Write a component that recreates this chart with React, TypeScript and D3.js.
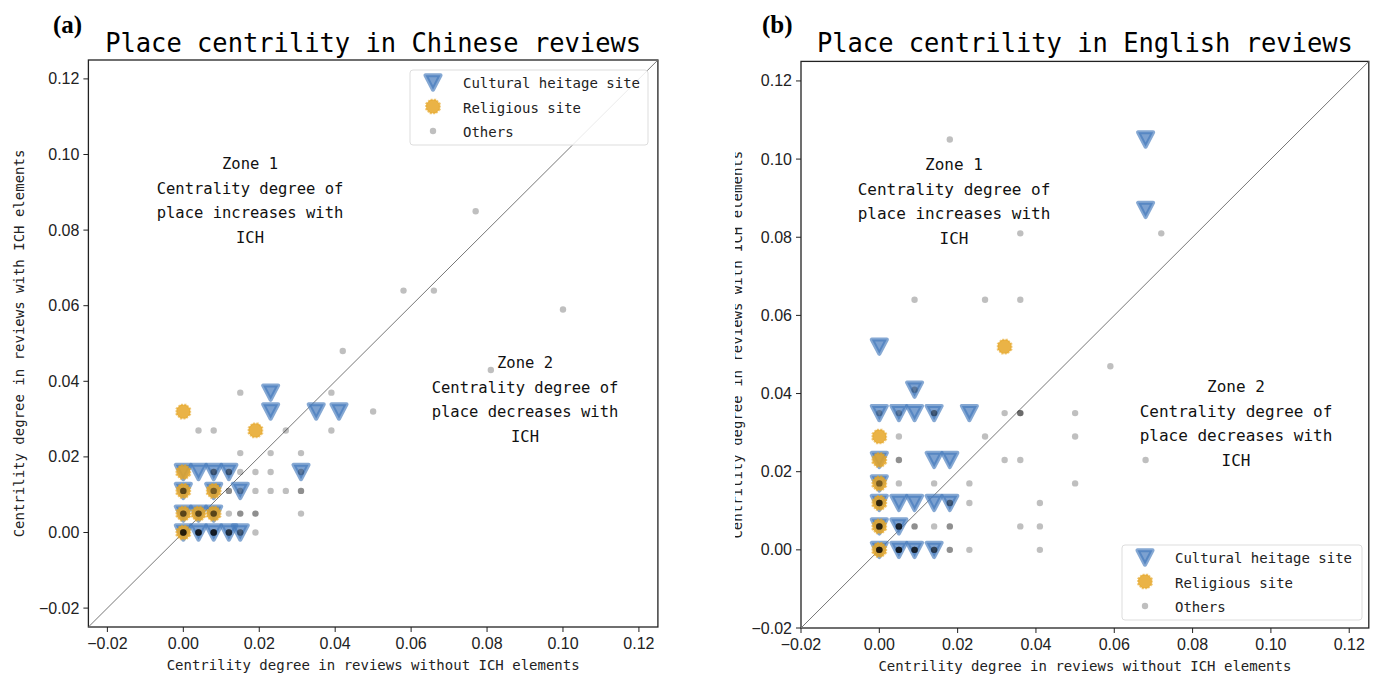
import * as d3 from 'd3'
import React from 'react'

// tick values shared by both panels
const tickValues = [-0.02, 0, 0.02, 0.04, 0.06, 0.08, 0.1, 0.12]
const legendLabels = ['Cultural heitage site', 'Religious site', 'Others']

// panel (a): Chinese reviews  [x, y]
const cultureA = [
  [0.023, 0.037], [0.023, 0.032], [0.035, 0.032], [0.041, 0.032], [0.031, 0.016],
  [0, 0.016], [0.004, 0.016], [0.008, 0.016], [0.012, 0.016],
  [0, 0.011], [0.008, 0.011], [0.015, 0.011],
  [0, 0.005], [0.004, 0.005], [0.008, 0.005],
  [0, 0], [0.004, 0], [0.008, 0], [0.012, 0], [0.015, 0],
]
const religiousA = [
  [0, 0.032], [0.019, 0.027], [0, 0.016], [0, 0.011], [0.008, 0.011],
  [0, 0.005], [0.004, 0.005], [0.008, 0.005], [0, 0],
]
// [x, y, number of places on the same spot]
const othersA = [
  [0.077, 0.085, 1], [0.058, 0.064, 1], [0.066, 0.064, 1], [0.1, 0.059, 1], [0.042, 0.048, 1],
  [0.081, 0.043, 1], [0.015, 0.037, 1], [0.039, 0.037, 1], [0.05, 0.032, 1],
  [0.004, 0.027, 1], [0.008, 0.027, 1], [0.027, 0.027, 1], [0.039, 0.027, 1],
  [0.015, 0.021, 1], [0.023, 0.021, 1], [0.031, 0.021, 1],
  [0.015, 0.016, 1], [0.019, 0.016, 1], [0.023, 0.016, 1], [0.008, 0.016, 2], [0.012, 0.016, 2], [0.031, 0.016, 1],
  [0, 0.011, 3], [0.008, 0.011, 2], [0.012, 0.011, 2], [0.015, 0.011, 1], [0.019, 0.011, 1],
  [0.023, 0.011, 1], [0.027, 0.011, 1], [0.031, 0.011, 2],
  [0, 0.005, 3], [0.004, 0.005, 3], [0.008, 0.005, 3], [0.012, 0.005, 1], [0.015, 0.005, 2],
  [0.019, 0.005, 2], [0.031, 0.005, 1],
  [0, 0, 6], [0.004, 0, 6], [0.008, 0, 6], [0.012, 0, 4], [0.015, 0, 2], [0.019, 0, 1],
]

// panel (b): English reviews
const cultureB = [
  [0.068, 0.105], [0.068, 0.087], [0, 0.052], [0.009, 0.041],
  [0, 0.035], [0.005, 0.035], [0.009, 0.035], [0.014, 0.035], [0.023, 0.035],
  [0, 0.023], [0.014, 0.023], [0.018, 0.023], [0, 0.017],
  [0, 0.012], [0.005, 0.012], [0.009, 0.012], [0.014, 0.012], [0.018, 0.012],
  [0, 0.006], [0.005, 0.006],
  [0, 0], [0.005, 0], [0.009, 0], [0.014, 0],
]
const religiousB = [
  [0.032, 0.052], [0, 0.029], [0, 0.023], [0, 0.017], [0, 0.012], [0, 0.006], [0, 0],
]
const othersB = [
  [0.018, 0.105, 1], [0.036, 0.081, 1], [0.072, 0.081, 1], [0.009, 0.064, 1], [0.027, 0.064, 1],
  [0.036, 0.064, 1], [0.059, 0.047, 1], [0.009, 0.041, 1],
  [0, 0.035, 1], [0.005, 0.035, 1], [0.014, 0.035, 2], [0.032, 0.035, 1], [0.036, 0.035, 3], [0.05, 0.035, 1],
  [0.005, 0.029, 1], [0.027, 0.029, 1], [0.05, 0.029, 1],
  [0.005, 0.023, 2], [0.032, 0.023, 1], [0.036, 0.023, 1], [0.068, 0.023, 1],
  [0, 0.017, 2], [0.005, 0.017, 1], [0.014, 0.017, 1], [0.023, 0.017, 1], [0.05, 0.017, 1],
  [0, 0.012, 5], [0.018, 0.012, 2], [0.023, 0.012, 1], [0.041, 0.012, 1],
  [0, 0.006, 5], [0.005, 0.006, 5], [0.009, 0.006, 2], [0.014, 0.006, 1], [0.018, 0.006, 2],
  [0.036, 0.006, 1], [0.041, 0.006, 1],
  [0, 0, 6], [0.005, 0, 6], [0.009, 0, 5], [0.014, 0, 3], [0.018, 0, 2], [0.023, 0, 1], [0.041, 0, 1],
]

const BLUE = '#4479bc'
const GOLD = '#e6a626'
const MONO = '"DejaVu Sans Mono", monospace'
const SANS = '"Liberation Sans", Arial, sans-serif'

const triPath = (h) => `M${-h * 1.05},${-h}L${h * 1.05},${-h}L0,${h}Z`
const octPath = (r) =>
  d3.range(8).map((i) => {
    const a = ((i * 45 + 22.5) * Math.PI) / 180
    return `${i ? 'L' : 'M'}${r * Math.cos(a)},${r * Math.sin(a)}`
  }).join('') + 'Z'

const Tri = ({ x, y }) => (
  <path transform={`translate(${x},${y})`} d={triPath(7.2)} fill={BLUE} fillOpacity={0.7}
    stroke={BLUE} strokeOpacity={0.65} strokeWidth={4} strokeLinejoin="round" />
)
const Oct = ({ x, y }) => (
  <path transform={`translate(${x},${y})`} d={octPath(7.4)} fill={GOLD} fillOpacity={0.85}
    stroke={GOLD} strokeOpacity={0.6} strokeWidth={2} strokeDasharray="2 1.2" />
)
const Dot = ({ x, y }) => <circle cx={x} cy={y} r={3.2} fill="#000" fillOpacity={0.25} />

const fmt = (v) => d3.format('.2f')(v).replace('-', '\u2212')

const Panel = (props) => {
  const { id, left, right, top, bottom, domain, title, culture, religious, others, zone1, zone2, legend, clipY } = props
  const x = d3.scaleLinear().domain(domain).range([left, right])
  const y = d3.scaleLinear().domain(domain).range([bottom, top])
  const cx = (left + right) / 2
  const cy = (top + bottom) / 2
  const clipId = 'clip' + id.replace(/\W/g, '')
  const zoneText = (z, lines) =>
    lines.map((t, i) => (
      <text key={i} x={z.x} y={z.y + i * 24.5} textAnchor="middle" fontFamily={MONO} fontSize={z.size} fill="#111">{t}</text>
    ))
  return (
    <g>
      <text x={props.tagX} y={33} fontFamily='"Liberation Serif", serif' fontWeight="bold" fontSize={25}>{id}</text>
      <text x={cx} y={52} textAnchor="middle" fontFamily={MONO} fontSize={27} textLength={536} lengthAdjust="spacingAndGlyphs">{title}</text>
      <rect x={left} y={top} width={right - left} height={bottom - top} fill="#fff" stroke="#222" strokeWidth={1.3} />
      <line x1={left} y1={bottom} x2={right} y2={top} stroke="#777" strokeWidth={1} />
      {tickValues.map((t) => (
        <g key={'x' + t}>
          <line x1={x(t)} x2={x(t)} y1={bottom} y2={bottom + 5} stroke="#222" />
          <text x={x(t)} y={bottom + 22} textAnchor="middle" fontFamily={SANS} fontSize={16} fill="#222">{fmt(t)}</text>
        </g>
      ))}
      {tickValues.map((t) => (
        <g key={'y' + t}>
          <line x1={left - 5} x2={left} y1={y(t)} y2={y(t)} stroke="#222" />
          <text x={left - 9} y={y(t) + 5.5} textAnchor="end" fontFamily={SANS} fontSize={16} fill="#222">{fmt(t)}</text>
        </g>
      ))}
      <text x={cx} y={bottom + 43} textAnchor="middle" fontFamily={MONO} fontSize={14} fill="#222">
        Centrility degree in reviews without ICH elements
      </text>
      {clipY && (
        <clipPath id={clipId}>
          <rect x={clipY.from} y={0} width={100} height={679} />
        </clipPath>
      )}
      <g clipPath={clipY ? `url(#${clipId})` : undefined}>
        <text transform={`translate(${props.ylabelX},${cy}) rotate(-90)`} textAnchor="middle" fontFamily={MONO}
          fontSize={14} fill="#222">
          Centrility degree in reviews with ICH elements
        </text>
      </g>
      {zoneText(zone1, ['Zone 1', 'Centrality degree of', 'place increases with', 'ICH'])}
      {zoneText(zone2, ['Zone 2', 'Centrality degree of', 'place decreases with', 'ICH'])}
      {culture.map((d, i) => <Tri key={'c' + i} x={x(d[0])} y={y(d[1])} />)}
      {religious.map((d, i) => <Oct key={'r' + i} x={x(d[0])} y={y(d[1])} />)}
      {others.flatMap((d, i) => d3.range(d[2]).map((k) => <Dot key={'o' + i + '-' + k} x={x(d[0])} y={y(d[1])} />))}
      <g>
        <rect x={legend.x} y={legend.y} width={legend.w} height={75} rx={3} fill="#fff" fillOpacity={0.85} stroke="#ddd" />
        <Tri x={legend.x + 23} y={legend.y + 12.5} />
        <Oct x={legend.x + 23} y={legend.y + 36.5} />
        <Dot x={legend.x + 23} y={legend.y + 61} />
        {legendLabels.map((t, i) => (
          <text key={t} x={legend.x + 53} y={legend.y + 18 + i * 24.5} fontFamily={MONO} fontSize={14} fill="#222">{t}</text>
        ))}
      </g>
    </g>
  )
}

const App = () => (
  <svg width={1386} height={679} style={{ position: 'absolute', left: 0, top: 0, background: '#fff' }}>
    <Panel id="(a)" tagX={53} left={88.4} right={657.9} top={60} bottom={627} domain={[-0.025, 0.125]}
      title="Place centrility in Chinese reviews" culture={cultureA} religious={religiousA} others={othersA}
      zone1={{ x: 250, y: 169, size: 15.5 }} zone2={{ x: 525, y: 368, size: 15.5 }}
      legend={{ x: 410, y: 70, w: 238 }} ylabelX={24} />
    <Panel id="(b)" tagX={762} left={801} right={1368.8} top={61.4} bottom={628} domain={[-0.02, 0.125]}
      title="Place centrility in English reviews" culture={cultureB} religious={religiousB} others={othersB}
      zone1={{ x: 954, y: 170, size: 16 }} zone2={{ x: 1236, y: 392, size: 16 }}
      legend={{ x: 1122, y: 545, w: 240 }} ylabelX={742} clipY={{ from: 735 }} />
  </svg>
)

export default App
